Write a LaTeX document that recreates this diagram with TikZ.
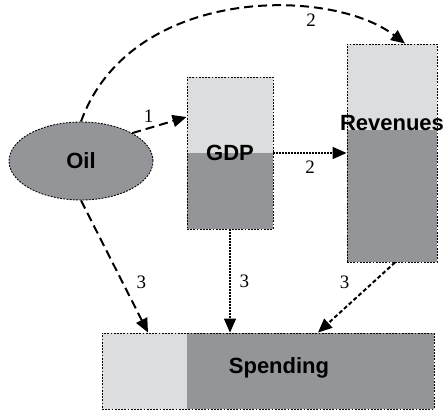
\documentclass[tikz,border=0pt]{standalone}
\usepackage{fontspec}
\setmainfont{Liberation Serif}
\setsansfont{Liberation Sans}
\usetikzlibrary{shapes.geometric,arrows.meta}

\definecolor{lightgr}{HTML}{DCDDDF}
\definecolor{darkgr}{HTML}{939598}

\begin{document}
\begin{tikzpicture}[x=1pt,y=1pt,
box/.style = {draw, line width=0.9pt, dash pattern=on 1.8pt off 1.4pt, fill=darkgr, inner sep=0pt, font=\sffamily\bfseries\fontsize{22}{24}\selectfont},
num/.style = {font=\fontsize{19}{20}\selectfont, inner sep=1pt},
tip/.style = {-{Triangle[length=14pt,width=12pt]}},
longdash/.style = {tip, line width=2pt, dash pattern=on 9pt off 5pt},
shortdash/.style = {tip, line width=2pt, dash pattern=on 4pt off 2.5pt},
dots/.style = {tip, line width=1.6pt, dash pattern=on 1.5pt off 1.5pt}
]
\def\revtop{86} % height of the light part of Revenues
\def\spleft{85} % width of the light part of Spending
\useasboundingbox (0,0) rectangle (444,410);

\node[box, ellipse, minimum width=144, minimum height=78] (oil) at (81,249) {Oil};
\node[box, minimum width=86, minimum height=152,
  path picture={\fill[lightgr] (path picture bounding box.north west) rectangle (path picture bounding box.east);}] (gdp) at (230,257) {GDP};
\node[box, minimum width=90, minimum height=218,
  path picture={\fill[lightgr] (path picture bounding box.north west) rectangle ([yshift=-\revtop]path picture bounding box.north east);}] (rev) at (392,257) {};
\node[box, draw=none, fill=none] (revtxt) at (392,287) {Revenues};
\node[box, minimum width=332, minimum height=76,
  path picture={\fill[lightgr] (path picture bounding box.south west) rectangle ([xshift=\spleft]path picture bounding box.north west);}] (spend) at (268,39) {};
\node[box, draw=none, fill=none, anchor=base] (spendtxt) at (279,37) {Spending};

% effects of oil
\draw[longdash] (oil.north east) -- node[num, above=4pt, pos=0.3] {1} ([yshift=36]gdp.west);
\draw[longdash] (oil.north) .. controls (130,424) and (330,424) .. node[num, pos=0.7, below=3pt] {2} ([xshift=13]rev.north);
\draw[dots] (gdp.east) -- node[num, below=6pt] {2} (rev.west);
% into spending
\draw[longdash] (oil.south) -- node[num, pos=0.62, right=12pt] {3} ([xshift=-120]spend.north);
\draw[dots, line width=1.3pt] (gdp.south) -- node[num, right=8pt] {3} (gdp.south |- spend.north);
\draw[shortdash] ([xshift=3]rev.south) -- node[num, pos=0.28, left=22pt] {3} ([xshift=50]spend.north);
\end{tikzpicture}
\end{document}
